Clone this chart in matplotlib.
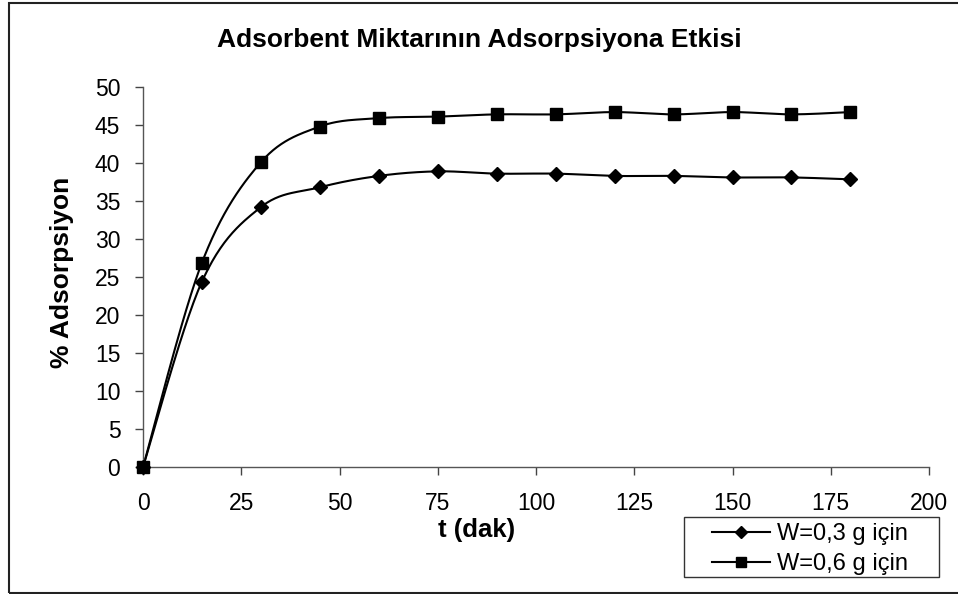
import numpy as np
import matplotlib
matplotlib.use("Agg")
import matplotlib.pyplot as plt
from matplotlib.lines import Line2D
from matplotlib.patches import Rectangle

plt.rcParams['font.family'] = ['Liberation Sans', 'DejaVu Sans']

# Contact time (min) and % adsorption for two adsorbent doses
t_dak = [0, 15, 30, 45, 60, 75, 90, 105, 120, 135, 150, 165, 180]
w03 = [0, 24.4, 34.2, 36.8, 38.3, 38.9, 38.6, 38.6, 38.3, 38.3, 38.1, 38.1, 37.85]
w06 = [0, 26.9, 40.1, 44.8, 45.9, 46.1, 46.4, 46.4, 46.7, 46.4, 46.7, 46.4, 46.7]
labels = ["W=0,3 g için", "W=0,6 g için"]

title = "Adsorbent Miktarının Adsorpsiyona Etkisi"
xlabel = "t (dak)"
ylabel = "% Adsorpsiyon"
xticks = [0, 25, 50, 75, 100, 125, 150, 175, 200]
yticks = [0, 5, 10, 15, 20, 25, 30, 35, 40, 45, 50]


def smooth(x, y, n=30):
    """Cardinal-spline smoothing through every point (Bezier segments)."""
    x = np.asarray(x, float)
    y = np.asarray(y, float)
    px = np.concatenate([[x[0]], x, [x[-1]]])
    py = np.concatenate([[y[0]], y, [y[-1]]])
    xs, ys = [], []
    s = np.linspace(0, 1, n)
    for i in range(1, len(px) - 2):
        p0 = np.array([px[i], py[i]])
        p3 = np.array([px[i + 1], py[i + 1]])
        p1 = p0 + (np.array([px[i + 1], py[i + 1]]) - np.array([px[i - 1], py[i - 1]])) / 6
        p2 = p3 - (np.array([px[i + 2], py[i + 2]]) - np.array([px[i], py[i]])) / 6
        b = ((1 - s) ** 3)[:, None] * p0 + (3 * (1 - s) ** 2 * s)[:, None] * p1 \
            + (3 * (1 - s) * s ** 2)[:, None] * p2 + (s ** 3)[:, None] * p3
        xs.append(b[:, 0])
        ys.append(b[:, 1])
    return np.concatenate(xs), np.concatenate(ys)


W, H = 958, 594
fig = plt.figure(figsize=(W / 100, H / 100), dpi=100)
ax = fig.add_axes([143 / W, 1 - 467 / H, 786 / W, 380 / H])

for yv, mk, ms in [(w03, 'D', 7.6), (w06, 's', 9.2)]:
    sx, sy = smooth(t_dak, yv)
    ax.plot(sx, sy, color='black', lw=1.5, zorder=2, clip_on=False)
    ax.plot(t_dak, yv, ls='none', marker=mk, ms=ms, color='black', zorder=3, clip_on=False)

ax.set_xlim(0, 200)
ax.set_ylim(0, 50)
ax.set_xticks(xticks)
ax.set_yticks(yticks)
ax.tick_params(direction='out', length=5.8, width=1, labelsize=16.5, color='#444444')
ax.tick_params(axis='x', pad=12.5)
ax.tick_params(axis='y', pad=10.5)
for side in ['top', 'right']:
    ax.spines[side].set_visible(False)
for side in ['left', 'bottom']:
    ax.spines[side].set_color('#555555')
    ax.spines[side].set_linewidth(1)

fig.text(479 / W, 1 - 47 / H, title, ha='center', va='baseline', fontsize=19, fontweight='bold')
fig.text(62 / W, 1 - 272 / H, ylabel, ha='center', va='center', rotation=90,
         fontsize=19, fontweight='bold')
fig.text(477 / W, 1 - 530 / H, xlabel, ha='center', va='center', fontsize=18.5, fontweight='bold')

# legend entries without a frame; the frame is drawn as its own box
handles = [Line2D([], [], color='black', lw=1.5, marker='D', ms=6),
           Line2D([], [], color='black', lw=1.5, marker='s', ms=6.5)]
leg = fig.legend(handles, labels, loc='upper left',
                 bbox_to_anchor=(712 / W, 1 - 523 / H), bbox_transform=fig.transFigure,
                 fontsize=17, frameon=False, borderpad=0,
                 handlelength=2.45, handletextpad=0.3, labelspacing=0.35, borderaxespad=0)
fig.patches.append(Rectangle((684 / W, 1 - 577 / H), 255 / W, 60 / H, transform=fig.transFigure,
                             fill=False, edgecolor='#333333', lw=1))

# outer chart border
fig.patches.append(Rectangle((9 / W, 1 / H), 1.2, 590 / H, transform=fig.transFigure,
                             fill=False, edgecolor='#222222', lw=1.5))

fig.savefig('out.png', dpi=100)
